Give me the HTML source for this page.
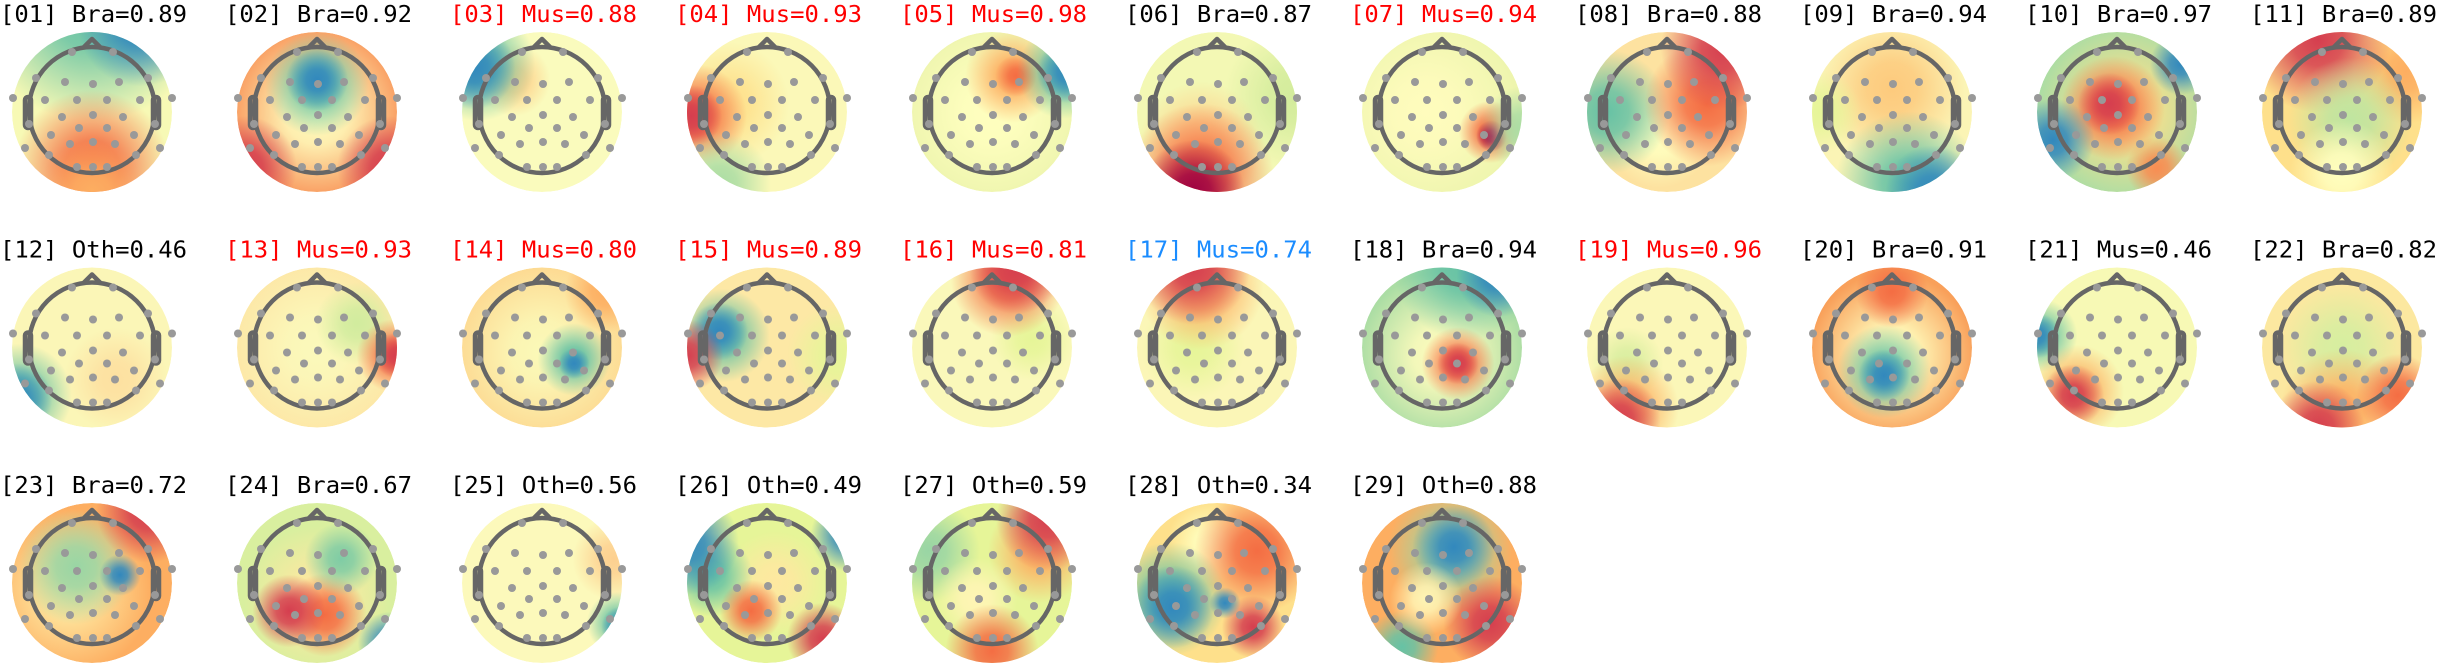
<!DOCTYPE html>
<html><head><meta charset="utf-8">
<style>
html,body{margin:0;padding:0;background:#fff;}
svg{display:block;}
text{font-family:"DejaVu Sans Mono","Liberation Mono",monospace;font-size:23px;}
</style></head>
<body>
<svg id="fig" width="2438" height="667" viewBox="0 0 2438 667" xmlns="http://www.w3.org/2000/svg">
<defs id="defs"></defs>
</svg>
<script>
const componentIds = ["01","02","03","04","05","06","07","08","09","10","11","12","13","14","15","16","17","18","19","20","21","22","23","24","25","26","27","28","29"];
const classLabels = ["Bra","Bra","Mus","Mus","Mus","Bra","Mus","Bra","Bra","Bra","Bra","Oth","Mus","Mus","Mus","Mus","Mus","Bra","Mus","Bra","Mus","Bra","Bra","Bra","Oth","Oth","Oth","Oth","Oth"];
const scores = ["0.89","0.92","0.88","0.93","0.98","0.87","0.94","0.88","0.94","0.97","0.89","0.46","0.93","0.80","0.89","0.81","0.74","0.94","0.96","0.91","0.46","0.82","0.72","0.67","0.56","0.49","0.59","0.34","0.88"];
const titleColors = ["#000","#000","#f00","#f00","#f00","#000","#f00","#000","#000","#000","#000","#000","#f00","#f00","#f00","#f00","#1a8cff","#000","#f00","#000","#000","#000","#000","#000","#000","#000","#000","#000","#000"];
const baseColors = ["#f7f9b5","#f88d52","#fafbbd","#fbf8b8","#eef5ae","#f3f8b4","#eef5ae","#fde2a0","#fbf4b5","#abdda4","#fee08b","#fbf6b7","#fde6a5","#fdd890","#fde8a5","#faf8ba","#fbf6b7","#abdda4","#fbf7b8","#f9a05a","#f7f9b5","#fce8a0","#fdae61","#d9ef9f","#fcf9bb","#e6f598","#e6f598","#fee08b","#fdae61"];
// blobs: [dx, dy, radius, color] in units of disk radius
const blobs = [
 [[0,-1.3,1.1,'#66c2a5'],[0.6,-1.1,0.6,'#3288bd'],[0,0.7,0.75,'#f46d43'],[0,1,0.5,'#fdae61']],
 [[0,0,0.9,'#ffffbf'],[0,-0.35,0.5,'#66c2a5'],[0,-0.4,0.3,'#3288bd'],[-0.9,0.7,0.5,'#d53e4f'],[0.9,0.7,0.5,'#d53e4f']],
 [[-0.35,-0.4,0.35,'#fdd08a'],[-0.8,-0.6,0.55,'#66c2a5'],[-0.85,-0.55,0.4,'#3288bd']],
 [[-0.5,-0.1,0.6,'#fee08b'],[-0.9,0.05,0.5,'#f46d43'],[-0.95,0.05,0.3,'#d53e4f'],[-0.6,0.9,0.5,'#abdda4']],
 [[0,0,0.85,'#ffffbf'],[0.25,-0.45,0.45,'#fdae61'],[0.3,-0.45,0.2,'#f46d43'],[0.9,-0.5,0.45,'#66c2a5'],[0.95,-0.5,0.3,'#3288bd']],
 [[1,-0.2,0.7,'#d3ec9c'],[-0.2,0.4,0.6,'#fdd08a'],[-0.2,0.8,0.7,'#f46d43'],[-0.3,1.0,0.5,'#9e0142']],
 [[-0.2,0,0.9,'#fffcbd'],[0.6,0.25,0.3,'#f46d43'],[0.62,0.3,0.15,'#9e0142'],[1,0.2,0.4,'#abdda4']],
 [[-0.1,0.3,0.5,'#ffffbf'],[-0.75,0,0.6,'#66c2a5'],[0.5,-0.1,0.6,'#f46d43'],[0.7,-0.8,0.6,'#d53e4f']],
 [[0,-0.3,0.7,'#fdca7d'],[-0.9,0,0.4,'#e6f598'],[0.2,0.9,0.7,'#66c2a5'],[0.5,1,0.45,'#3288bd']],
 [[0.1,0,0.85,'#fee08b'],[-0.05,-0.05,0.5,'#f46d43'],[-0.1,-0.1,0.3,'#d53e4f'],[-0.8,0.35,0.4,'#3288bd'],[0.8,-0.6,0.3,'#3288bd'],[0.5,0.7,0.3,'#f88d52']],
 [[0.8,-0.5,0.5,'#fdae61'],[-0.3,-0.9,0.7,'#d53e4f'],[0.1,0.1,0.6,'#bfe5a0'],[0,0.75,0.5,'#ffffbf']],
 [[0.3,0.4,0.5,'#fde0a0'],[-0.9,0.6,0.5,'#66c2a5'],[-0.95,0.65,0.35,'#3288bd']],
 [[0,0,0.85,'#fbf9bb'],[0.5,-0.3,0.4,'#d1ec9e'],[0.95,0.1,0.35,'#f46d43'],[1,0.1,0.22,'#d53e4f']],
 [[0,0.05,0.85,'#fbf9b8'],[0.4,0.15,0.35,'#66c2a5'],[0.4,0.2,0.15,'#3288bd'],[0.8,-0.7,0.4,'#fdae61']],
 [[0.9,0.1,0.5,'#e6f598'],[-0.55,-0.15,0.45,'#66c2a5'],[-0.6,-0.2,0.28,'#3288bd'],[-1,0.1,0.35,'#d53e4f']],
 [[0.5,-0.1,0.4,'#e6f598'],[0.2,-0.85,0.55,'#f46d43'],[0.3,-1,0.45,'#d53e4f']],
 [[-0.3,0,0.5,'#e6f598'],[-0.2,-0.75,0.6,'#fdae61'],[-0.3,-1,0.55,'#d53e4f']],
 [[0,0.1,0.8,'#fffcbd'],[0.3,-1,0.7,'#66c2a5'],[0.7,-0.9,0.4,'#3288bd'],[0.2,0.2,0.35,'#f46d43'],[0.2,0.2,0.2,'#d53e4f']],
 [[-0.5,0.2,0.35,'#d9eea0'],[-0.5,0.75,0.5,'#fdae61'],[-0.6,0.9,0.4,'#d53e4f']],
 [[0,0.1,0.8,'#ffffbf'],[0,-0.7,0.35,'#f46d43'],[-0.1,0.3,0.45,'#66c2a5'],[-0.1,0.35,0.25,'#3288bd']],
 [[-0.95,-0.15,0.35,'#66c2a5'],[-1,-0.15,0.22,'#3288bd'],[-0.5,0.55,0.45,'#fdae61'],[-0.55,0.6,0.3,'#d53e4f']],
 [[0,0,0.6,'#d6eea0'],[0,0.8,0.6,'#fdae61'],[0.7,0.6,0.4,'#f46d43'],[-0.3,1,0.45,'#d53e4f']],
 [[-0.3,0.1,0.8,'#fee8a0'],[-0.2,-0.2,0.55,'#99d5a4'],[0.35,-0.1,0.2,'#3288bd'],[0.7,-0.9,0.5,'#d53e4f']],
 [[0,0.2,0.7,'#fee8a0'],[0.1,0.4,0.4,'#f46d43'],[-0.35,0.35,0.35,'#d53e4f'],[0.3,-0.3,0.35,'#7fcca5'],[0.9,0.75,0.3,'#3288bd']],
 [[0.9,-0.3,0.4,'#fdd090'],[0.95,0.5,0.3,'#66c2a5'],[1,0.55,0.2,'#3288bd']],
 [[0.1,0,0.5,'#fee8a0'],[-0.7,-0.1,0.4,'#66c2a5'],[-1,-0.5,0.5,'#3288bd'],[1,-0.6,0.35,'#3288bd'],[-0.2,0.35,0.3,'#f46d43'],[0.7,0.7,0.35,'#d53e4f']],
 [[-0.8,-0.4,0.5,'#99d5a4'],[0.6,-0.4,0.5,'#fdae61'],[0.7,-0.8,0.5,'#d53e4f'],[-0.2,0.2,0.4,'#fff5b5'],[0,0.85,0.45,'#f46d43']],
 [[-0.1,-0.5,0.4,'#ffffbf'],[0.5,-0.4,0.6,'#f46d43'],[-0.6,0.2,0.55,'#66c2a5'],[-0.55,0.3,0.4,'#3288bd'],[0.45,0.55,0.3,'#d53e4f'],[0.1,0.25,0.15,'#3288bd']],
 [[0.1,-0.4,0.6,'#99d5a4'],[0.15,-0.45,0.4,'#3288bd'],[0.6,0.5,0.45,'#d53e4f'],[-0.5,0.8,0.35,'#66c2a5'],[-0.2,0.2,0.35,'#fff5b5']]
];
const electrodes = [[-20,-60],[21,-60],[-56,-34],[-27,-30],[1,-28],[27,-30],[56,-34],[-79,-14],[-47,-12],[-15,-12],[15,-12],[48,-12],[80,-14],[-63,12],[-30,5],[1,3],[31,5],[63,12],[-41,23],[-13,16],[15,16],[42,23],[-67,36],[-22,32],[1,30],[23,32],[68,36],[-43,43],[44,43],[-15,55],[1,55],[15,55]];

const NS='http://www.w3.org/2000/svg';
const svg=document.getElementById('fig');
const defs=document.getElementById('defs');
const R=80, colPitch=225, rowPitch=235.5;
function mk(tag,attrs,parent){const e=document.createElementNS(NS,tag);for(const k in attrs)e.setAttribute(k,attrs[k]);parent.appendChild(e);return e;}

componentIds.forEach((id,i)=>{
  const col=i%11,row=Math.floor(i/11);
  const cx=col*colPitch+92, cy=row*rowPitch+112;
  const g=mk('g',{},svg);
  
  
  const t=mk('text',{x:col*colPitch,y:row*rowPitch+22,fill:titleColors[i],textLength:187,lengthAdjust:'spacingAndGlyphs'},g);
  t.textContent='['+id+'] '+classLabels[i]+'='+scores[i];
  
  
  const clip=mk('clipPath',{id:'c'+i},defs);
  mk('circle',{cx:cx,cy:cy,r:R},clip);
  const mapG=mk('g',{'clip-path':'url(#c'+i+')'},g);
  
  
  mk('circle',{cx:cx,cy:cy,r:R,fill:baseColors[i]},mapG);
  blobs[i].forEach((b,j)=>{
    const gid='g'+i+'_'+j;
    const rg=mk('radialGradient',{id:gid},defs);
    mk('stop',{offset:'0','stop-color':b[3],'stop-opacity':'1'},rg);
    mk('stop',{offset:'0.35','stop-color':b[3],'stop-opacity':'0.85'},rg);
    mk('stop',{offset:'1','stop-color':b[3],'stop-opacity':'0'},rg);
    const c=mk('circle',{cx:cx+b[0]*R,cy:cy+b[1]*R,r:b[2]*R*1.3,fill:'url(#'+gid+')'},mapG);
    
    
  });
  const head=mk('g',{fill:'none',stroke:'#666','stroke-width':4.5,'stroke-linejoin':'round'},g);
  
  
  mk('circle',{cx:cx,cy:cy-2,r:63},head);
  mk('path',{d:`M${cx-9} ${cy-64} L${cx} ${cy-73} L${cx+9} ${cy-64}`},head);
  mk('rect',{x:cx-67,y:cy-15,width:6,height:31,rx:3},head);
  mk('rect',{x:cx+61,y:cy-15,width:6,height:31,rx:3},head);
  electrodes.forEach(e=>{
    const d=mk('circle',{cx:cx+e[0],cy:cy+e[1],r:4,fill:'#999'},g);
    
    
  });
});
</script>
</body></html>
